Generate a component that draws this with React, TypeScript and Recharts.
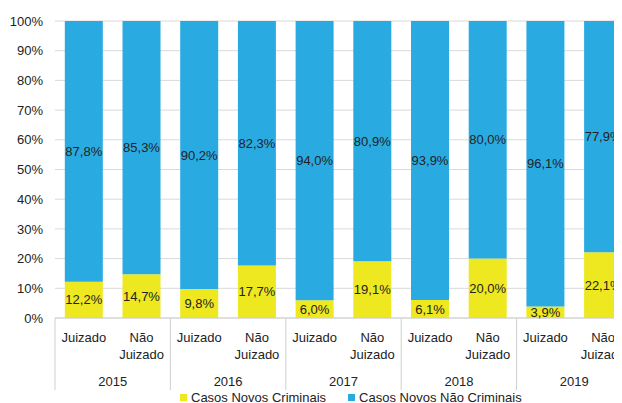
import React from 'react';
import { BarChart, Bar, XAxis, YAxis, CartesianGrid, LabelList } from 'recharts';

const categories = ['Juizado', 'Não Juizado', 'Juizado', 'Não Juizado', 'Juizado', 'Não Juizado', 'Juizado', 'Não Juizado', 'Juizado', 'Não Juizado'];
const years = ['2015', '2015', '2016', '2016', '2017', '2017', '2018', '2018', '2019', '2019'];
const criminais = [12.2, 14.7, 9.8, 17.7, 6.0, 19.1, 6.1, 20.0, 3.9, 22.1];
const naoCriminais = [87.8, 85.3, 90.2, 82.3, 94.0, 80.9, 93.9, 80.0, 96.1, 77.9];
const yTicks = [0, 10, 20, 30, 40, 50, 60, 70, 80, 90, 100];

const BLUE = '#29ABE2';
const YELLOW = '#EEE820';
const FONT = '"Liberation Sans", Arial, sans-serif';

const W = 640;
const H = 395;
const LEFT = 47;
const RIGHT = 16;
const BAND = (W - LEFT - RIGHT) / categories.length;

const data = categories.map((name, i) => ({
  key: `${years[i]}-${i}`,
  name,
  year: years[i],
  criminais: criminais[i],
  naoCriminais: naoCriminais[i],
}));

const fmt = (v: any) => `${Number(v).toFixed(1).replace('.', ',')}%`;

const MultiTick = (props: any) => {
  const { x, y, index } = props;
  const d = data[index];
  if (!d) return null;
  const lines = d.name === 'Não Juizado' ? ['Não', 'Juizado'] : ['Juizado'];
  const startOfGroup = index % 2 === 0;
  return (
    <g>
      {lines.map((l, i) => (
        <text key={i} x={x} y={y + 24 + i * 17} textAnchor="middle" fill="#222" fontSize={13} fontFamily={FONT}>
          {l}
        </text>
      ))}
      {startOfGroup && (
        <>
          <line x1={x - BAND / 2} x2={x - BAND / 2} y1={y} y2={y + 72} stroke="#d0d0d0" />
          <text x={x + BAND / 2} y={y + 68} textAnchor="middle" fill="#222" fontSize={13} fontFamily={FONT}>
            {d.year}
          </text>
        </>
      )}
    </g>
  );
};

const LegendBox = () => (
  <div
    style={{
      position: 'absolute',
      left: 172,
      top: 382,
      display: 'flex',
      fontFamily: FONT,
      fontSize: 13,
      lineHeight: '15px',
      color: '#222',
      whiteSpace: 'nowrap',
    }}
  >
    <span style={{ display: 'flex', alignItems: 'center', marginRight: 22 }}>
      <span style={{ width: 7, height: 7, background: YELLOW, marginRight: 4 }} />
      Casos Novos Criminais
    </span>
    <span style={{ display: 'flex', alignItems: 'center' }}>
      <span style={{ width: 7, height: 7, background: BLUE, marginRight: 4 }} />
      Casos Novos Não Criminais
    </span>
  </div>
);

export default function App() {
  return (
    <div style={{ width: W, height: H, overflow: 'hidden', position: 'relative' }}>
      <style>{'html, body { overflow: hidden; }'}</style>
      <BarChart
        width={W}
        height={H}
        data={data}
        margin={{ top: 13, right: RIGHT, left: 0, bottom: 0 }}
        barCategoryGap="17%"
      >
        <CartesianGrid vertical={false} stroke="#d9d9d9" />
        <YAxis
          width={LEFT}
          domain={[0, 100]}
          ticks={yTicks}
          interval={0}
          tickFormatter={(v) => `${v}%`}
          axisLine={false}
          tickLine={false}
          tickMargin={6}
          tick={{ fill: '#222', fontSize: 13, fontFamily: FONT }}
        />
        <XAxis
          dataKey="key"
          interval={0}
          axisLine={{ stroke: '#d0d0d0' }}
          tickLine={false}
          tickSize={0}
          tickMargin={0}
          height={85}
          tick={<MultiTick />}
        />
        <Bar dataKey="criminais" stackId="a" fill={YELLOW} isAnimationActive={false} name="Casos Novos Criminais">
          <LabelList dataKey="criminais" position="center" formatter={fmt} fill="#222" fontSize={13} fontFamily={FONT} />
        </Bar>
        <Bar dataKey="naoCriminais" stackId="a" fill={BLUE} isAnimationActive={false} name="Casos Novos Não Criminais">
          <LabelList dataKey="naoCriminais" position="center" formatter={fmt} fill="#222" fontSize={13} fontFamily={FONT} />
        </Bar>
      </BarChart>
      <LegendBox />
    </div>
  );
}
